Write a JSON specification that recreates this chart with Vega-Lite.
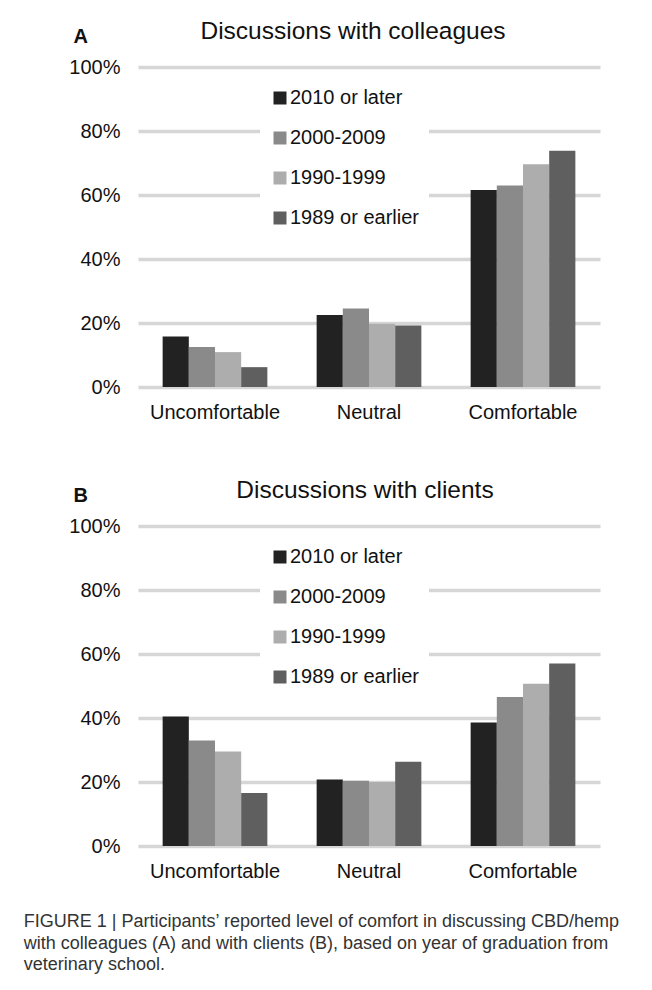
{
  "$schema": "https://vega.github.io/schema/vega-lite/v6.json",
  "padding": {"left": 23, "top": 19, "right": 10, "bottom": 5},
  "background": "white",
  "config": {"font": "Liberation Sans", "view": {"stroke": null}, "concat": {"spacing": 56}},
  "datasets": {
    "colleagues": [
      {"comfort": "Uncomfortable", "cohort": "2010 or later", "pct": 15.8},
      {"comfort": "Uncomfortable", "cohort": "2000-2009", "pct": 12.5},
      {"comfort": "Uncomfortable", "cohort": "1990-1999", "pct": 10.9},
      {"comfort": "Uncomfortable", "cohort": "1989 or earlier", "pct": 6.2},
      {"comfort": "Neutral", "cohort": "2010 or later", "pct": 22.5},
      {"comfort": "Neutral", "cohort": "2000-2009", "pct": 24.5},
      {"comfort": "Neutral", "cohort": "1990-1999", "pct": 19.8},
      {"comfort": "Neutral", "cohort": "1989 or earlier", "pct": 19.2},
      {"comfort": "Comfortable", "cohort": "2010 or later", "pct": 61.6},
      {"comfort": "Comfortable", "cohort": "2000-2009", "pct": 63.0},
      {"comfort": "Comfortable", "cohort": "1990-1999", "pct": 69.6},
      {"comfort": "Comfortable", "cohort": "1989 or earlier", "pct": 73.8}
    ],
    "clients": [
      {"comfort": "Uncomfortable", "cohort": "2010 or later", "pct": 40.5},
      {"comfort": "Uncomfortable", "cohort": "2000-2009", "pct": 33.0},
      {"comfort": "Uncomfortable", "cohort": "1990-1999", "pct": 29.5},
      {"comfort": "Uncomfortable", "cohort": "1989 or earlier", "pct": 16.6},
      {"comfort": "Neutral", "cohort": "2010 or later", "pct": 20.8},
      {"comfort": "Neutral", "cohort": "2000-2009", "pct": 20.4},
      {"comfort": "Neutral", "cohort": "1990-1999", "pct": 20.0},
      {"comfort": "Neutral", "cohort": "1989 or earlier", "pct": 26.3},
      {"comfort": "Comfortable", "cohort": "2010 or later", "pct": 38.6},
      {"comfort": "Comfortable", "cohort": "2000-2009", "pct": 46.6},
      {"comfort": "Comfortable", "cohort": "1990-1999", "pct": 50.7},
      {"comfort": "Comfortable", "cohort": "1989 or earlier", "pct": 57.0}
    ]
  },
  "title": {
    "text": [
      "FIGURE 1 | Participants’ reported level of comfort in discussing CBD/hemp",
      "with colleagues (A) and with clients (B), based on year of graduation from",
      "veterinary school."
    ],
    "orient": "bottom",
    "anchor": "start",
    "fontSize": 18,
    "fontWeight": "normal",
    "color": "#333333",
    "dx": -45,
    "offset": 32,
    "lineHeight": 21.5
  },
  "resolve": {"legend": {"color": "independent"}},
  "vconcat": [
    {
      "data": {"name": "colleagues"},
      "width": 462,
      "height": 320,
      "title": {"text": "Discussions with colleagues", "fontSize": 24.5, "fontWeight": "normal", "color": "#111111", "dx": -16, "offset": -18.5},
      "mark": {"type": "bar"},
      "encoding": {
        "x": {"field": "comfort", "type": "nominal", "sort": ["Uncomfortable", "Neutral", "Comfortable"],
              "scale": {"paddingInner": 0.32, "paddingOuter": 0.16},
              "axis": {"title": null, "labelAngle": 0, "domain": false, "ticks": false, "labelFontSize": 20, "labelColor": "#111111", "labelPadding": 15}},
        "xOffset": {"field": "cohort", "type": "nominal", "sort": ["2010 or later", "2000-2009", "1990-1999", "1989 or earlier"], "scale": {"paddingInner": 0, "paddingOuter": 0}},
        "y": {"field": "pct", "type": "quantitative", "scale": {"domain": [0, 100]},
              "axis": {"values": [0, 20, 40, 60, 80, 100], "labelExpr": "datum.label + '%'", "title": "A", "titleAngle": 0, "titleX": -65, "titleY": -31, "titleAlign": "left", "titleBaseline": "middle", "titleFontSize": 20, "titleFontWeight": "bold", "titleColor": "#111111", "domain": false, "ticks": false, "gridColor": "#d6d6d6", "gridWidth": 3.5, "labelFontSize": 20, "labelPadding": 18, "labelColor": "#111111"}},
        "color": {"field": "cohort", "type": "nominal",
                  "scale": {"domain": ["2010 or later", "2000-2009", "1990-1999", "1989 or earlier"], "range": ["#222222", "#8a8a8a", "#adadad", "#5f5f5f"]},
                  "legend": {"orient": "none", "legendX": 122, "legendY": 11, "title": null, "fillColor": "white", "padding": 10, "labelFontSize": 20, "labelColor": "#111111", "symbolType": "square", "symbolSize": 169, "symbolStrokeWidth": 0, "rowPadding": 20, "labelOffset": 0}}
      }
    },
    {
      "data": {"name": "clients"},
      "width": 462,
      "height": 320,
      "title": {"text": "Discussions with clients", "fontSize": 24.5, "fontWeight": "normal", "color": "#111111", "dx": -4, "offset": -18.5},
      "mark": {"type": "bar"},
      "encoding": {
        "x": {"field": "comfort", "type": "nominal", "sort": ["Uncomfortable", "Neutral", "Comfortable"],
              "scale": {"paddingInner": 0.32, "paddingOuter": 0.16},
              "axis": {"title": null, "labelAngle": 0, "domain": false, "ticks": false, "labelFontSize": 20, "labelColor": "#111111", "labelPadding": 15}},
        "xOffset": {"field": "cohort", "type": "nominal", "sort": ["2010 or later", "2000-2009", "1990-1999", "1989 or earlier"], "scale": {"paddingInner": 0, "paddingOuter": 0}},
        "y": {"field": "pct", "type": "quantitative", "scale": {"domain": [0, 100]},
              "axis": {"values": [0, 20, 40, 60, 80, 100], "labelExpr": "datum.label + '%'", "title": "B", "titleAngle": 0, "titleX": -65, "titleY": -31, "titleAlign": "left", "titleBaseline": "middle", "titleFontSize": 20, "titleFontWeight": "bold", "titleColor": "#111111", "domain": false, "ticks": false, "gridColor": "#d6d6d6", "gridWidth": 3.5, "labelFontSize": 20, "labelPadding": 18, "labelColor": "#111111"}},
        "color": {"field": "cohort", "type": "nominal",
                  "scale": {"domain": ["2010 or later", "2000-2009", "1990-1999", "1989 or earlier"], "range": ["#222222", "#8a8a8a", "#adadad", "#5f5f5f"]},
                  "legend": {"orient": "none", "legendX": 122, "legendY": 11, "title": null, "fillColor": "white", "padding": 10, "labelFontSize": 20, "labelColor": "#111111", "symbolType": "square", "symbolSize": 169, "symbolStrokeWidth": 0, "rowPadding": 20, "labelOffset": 0}}
      }
    }
  ]
}
